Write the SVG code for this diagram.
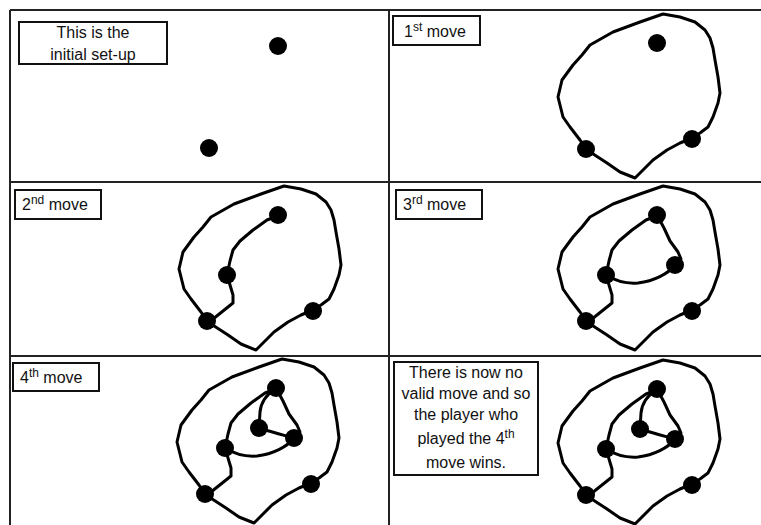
<svg xmlns="http://www.w3.org/2000/svg" xmlns:xlink="http://www.w3.org/1999/xlink" width="761" height="525" viewBox="0 0 761 525">
  <style>
    .grid { stroke: #222; stroke-width: 2; fill: none; }
    .box { fill: #fff; stroke: #111; stroke-width: 2; }
    .lbl { font-family: "Liberation Sans", Arial, sans-serif; font-size: 16px; fill: #111; }
    .sup { font-size: 12px; }
    .curve { fill: none; stroke: #000; stroke-width: 3; stroke-linejoin: round; stroke-linecap: round; }
    .dot { fill: #000; }
  </style>
  <defs>
    <path id="loop" class="curve" d="M274,4 L291,7 L306,12 L316,20 L321,28 L324,38 L326,50 L329,67 L331,83 L329,93 L324,107 L319,117 L311,123 L303,128 L291,133 L278,140 L264,150 L246,168 L231,162 L218,153 L198,140 L191,130 L181,117 L174,107 L169,87 L173,70 L184,55 L193,45 L201,35 L224,22 L251,12 Z"/>
    <path id="edgeTMB" class="curve" d="M268,34 L257,38 L243,48 L230,59 L223,68 L220,79 L217,93 L220,103 L223,113 L223,121 L213,129 L203,137 L197,139"/>
    <path id="edgeTIR" class="curve" d="M268,33 L275,46 L281,59 L289,70 L292,77 L286,83"/>
    <path id="edgeIRM" class="curve" d="M286,83 C279,92 265,99 249,101 C236,102 225,98 217,93"/>
    <path id="edgeTC" class="curve" d="M268,33 C259,39 253,47 252,57 L251,73"/>
    <path id="edgeCIR" class="curve" d="M251,73 C263,77 275,80 286,83"/>
  </defs>

  <rect width="761" height="525" fill="#fff"/>

  <g id="grid">
    <line class="grid" x1="10" y1="10" x2="761" y2="10"/>
    <line class="grid" x1="10" y1="10" x2="10" y2="525"/>
    <line class="grid" x1="389" y1="10" x2="389" y2="525"/>
    <line class="grid" x1="10" y1="182" x2="761" y2="182"/>
    <line class="grid" x1="10" y1="356" x2="761" y2="356"/>
  </g>

  <!-- Panel 1: initial set-up -->
  <g id="panel1">
    <g id="label1">
      <rect class="box" x="19" y="22" width="148" height="42"/>
      <text class="lbl" x="93" y="38" text-anchor="middle">This is the</text>
      <text class="lbl" x="93" y="60" text-anchor="middle">initial set-up</text>
    </g>
    <g id="p1-nodes">
      <circle id="p1-a" class="dot" cx="278" cy="46" r="9"/>
      <circle id="p1-b" class="dot" cx="209" cy="148" r="9"/>
    </g>
  </g>

  <!-- Panel 2: 1st move -->
  <g id="panel2">
    <g id="label2">
      <rect class="box" x="393" y="16" width="87" height="29"/>
      <text class="lbl" x="404" y="37">1<tspan class="sup" dy="-6">st</tspan><tspan dy="6"> move</tspan></text>
    </g>
    <g transform="translate(389,10)">
      <g id="p2-connectors"><use xlink:href="#loop"/></g>
      <g id="p2-nodes">
        <circle id="p2-T" class="dot" cx="268" cy="33" r="9"/>
        <circle id="p2-BL" class="dot" cx="197" cy="139" r="9"/>
        <circle id="p2-R" class="dot" cx="303" cy="129" r="9"/>
      </g>
    </g>
  </g>

  <!-- Panel 3: 2nd move -->
  <g id="panel3">
    <g id="label3">
      <rect class="box" x="15" y="190" width="86" height="29"/>
      <text class="lbl" x="22" y="210">2<tspan class="sup" dy="-6">nd</tspan><tspan dy="6"> move</tspan></text>
    </g>
    <g transform="translate(10,182)">
      <g id="p3-connectors">
        <use xlink:href="#loop"/>
        <use xlink:href="#edgeTMB"/>
      </g>
      <g id="p3-nodes">
        <circle id="p3-T" class="dot" cx="268" cy="33" r="9"/>
        <circle id="p3-M" class="dot" cx="217" cy="93" r="9"/>
        <circle id="p3-BL" class="dot" cx="197" cy="139" r="9"/>
        <circle id="p3-R" class="dot" cx="303" cy="129" r="9"/>
      </g>
    </g>
  </g>

  <!-- Panel 4: 3rd move -->
  <g id="panel4">
    <g id="label4">
      <rect class="box" x="396" y="190" width="86" height="29"/>
      <text class="lbl" x="403" y="210">3<tspan class="sup" dy="-6">rd</tspan><tspan dy="6"> move</tspan></text>
    </g>
    <g transform="translate(389,182)">
      <g id="p4-connectors">
        <use xlink:href="#loop"/>
        <use xlink:href="#edgeTMB"/>
        <use xlink:href="#edgeTIR"/>
        <use xlink:href="#edgeIRM"/>
      </g>
      <g id="p4-nodes">
        <circle id="p4-T" class="dot" cx="268" cy="33" r="9"/>
        <circle id="p4-M" class="dot" cx="217" cy="93" r="9"/>
        <circle id="p4-IR" class="dot" cx="286" cy="83" r="9"/>
        <circle id="p4-BL" class="dot" cx="197" cy="139" r="9"/>
        <circle id="p4-R" class="dot" cx="303" cy="129" r="9"/>
      </g>
    </g>
  </g>

  <!-- Panel 5: 4th move -->
  <g id="panel5">
    <g id="label5">
      <rect class="box" x="13" y="363" width="86" height="28"/>
      <text class="lbl" x="20" y="383">4<tspan class="sup" dy="-6">th</tspan><tspan dy="6"> move</tspan></text>
    </g>
    <g transform="translate(8,355)">
      <g id="p5-connectors">
        <use xlink:href="#loop"/>
        <use xlink:href="#edgeTMB"/>
        <use xlink:href="#edgeTIR"/>
        <use xlink:href="#edgeIRM"/>
        <use xlink:href="#edgeTC"/>
        <use xlink:href="#edgeCIR"/>
      </g>
      <g id="p5-nodes">
        <circle id="p5-T" class="dot" cx="268" cy="33" r="9"/>
        <circle id="p5-M" class="dot" cx="217" cy="93" r="9"/>
        <circle id="p5-C" class="dot" cx="251" cy="73" r="9"/>
        <circle id="p5-IR" class="dot" cx="286" cy="83" r="9"/>
        <circle id="p5-BL" class="dot" cx="197" cy="139" r="9"/>
        <circle id="p5-R" class="dot" cx="303" cy="129" r="9"/>
      </g>
    </g>
  </g>

  <!-- Panel 6: final -->
  <g id="panel6">
    <g id="label6">
      <rect class="box" x="394" y="362" width="144" height="113"/>
      <text class="lbl" x="466" y="378" text-anchor="middle">There is now no</text>
      <text class="lbl" x="466" y="399" text-anchor="middle">valid move and so</text>
      <text class="lbl" x="466" y="420" text-anchor="middle">the player who</text>
      <text class="lbl" x="466" y="444" text-anchor="middle">played the 4<tspan class="sup" dy="-6">th</tspan></text>
      <text class="lbl" x="466" y="468" text-anchor="middle">move wins.</text>
    </g>
    <g transform="translate(389,356)">
      <g id="p6-connectors">
        <use xlink:href="#loop"/>
        <use xlink:href="#edgeTMB"/>
        <use xlink:href="#edgeTIR"/>
        <use xlink:href="#edgeIRM"/>
        <use xlink:href="#edgeTC"/>
        <use xlink:href="#edgeCIR"/>
      </g>
      <g id="p6-nodes">
        <circle id="p6-T" class="dot" cx="268" cy="33" r="9"/>
        <circle id="p6-M" class="dot" cx="217" cy="93" r="9"/>
        <circle id="p6-C" class="dot" cx="251" cy="73" r="9"/>
        <circle id="p6-IR" class="dot" cx="286" cy="83" r="9"/>
        <circle id="p6-BL" class="dot" cx="197" cy="139" r="9"/>
        <circle id="p6-R" class="dot" cx="303" cy="129" r="9"/>
      </g>
    </g>
  </g>
</svg>
